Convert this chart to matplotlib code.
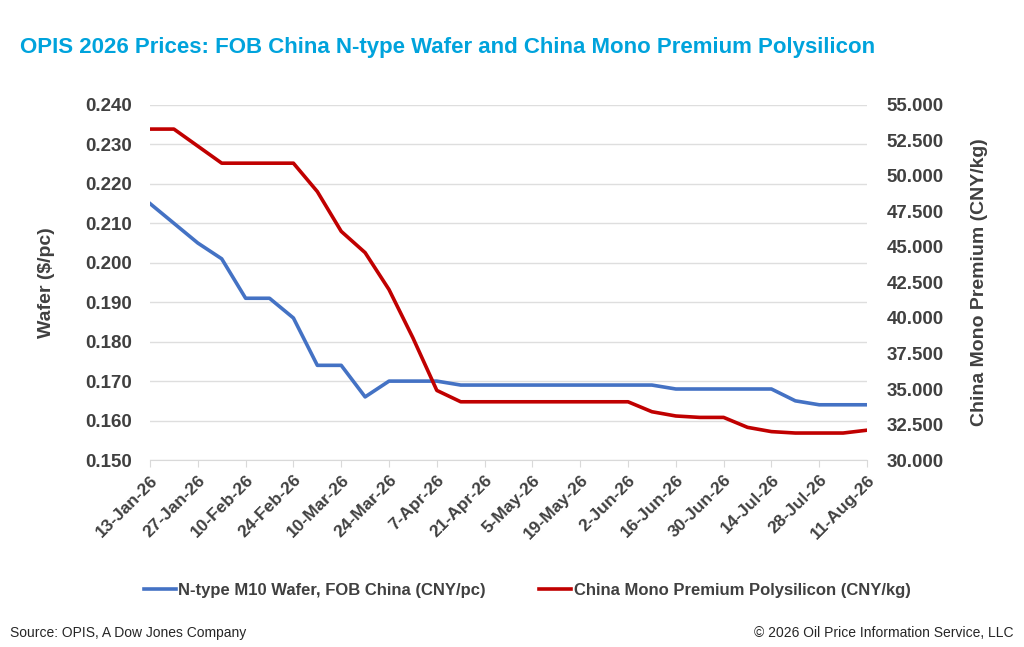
import numpy as np
import matplotlib
matplotlib.use("Agg")
import matplotlib.pyplot as plt
from matplotlib.ticker import FormatStrFormatter

# weekly assessment dates (every Tuesday, 13-Jan-26 .. 11-Aug-26)
dates = ["13-Jan-26", "20-Jan-26", "27-Jan-26", "3-Feb-26", "10-Feb-26", "17-Feb-26",
         "24-Feb-26", "3-Mar-26", "10-Mar-26", "17-Mar-26", "24-Mar-26", "31-Mar-26",
         "7-Apr-26", "14-Apr-26", "21-Apr-26", "28-Apr-26", "5-May-26", "12-May-26",
         "19-May-26", "26-May-26", "2-Jun-26", "9-Jun-26", "16-Jun-26", "23-Jun-26",
         "30-Jun-26", "7-Jul-26", "14-Jul-26", "21-Jul-26", "28-Jul-26", "4-Aug-26",
         "11-Aug-26"]

wafer = [0.215, 0.210, 0.205, 0.201, 0.191, 0.191, 0.186, 0.174, 0.174, 0.166,
         0.170, 0.170, 0.170, 0.169, 0.169, 0.169, 0.169, 0.169, 0.169, 0.169,
         0.169, 0.169, 0.168, 0.168, 0.168, 0.168, 0.168, 0.165, 0.164, 0.164,
         0.164]

poly = [53.3, 53.3, 52.1, 50.9, 50.9, 50.9, 50.9, 48.9, 46.1, 44.6,
        42.0, 38.6, 34.9, 34.1, 34.1, 34.1, 34.1, 34.1, 34.1, 34.1,
        34.1, 33.4, 33.1, 33.0, 33.0, 32.3, 32.0, 31.9, 31.9, 31.9,
        32.1]

wafer_label = "N-type M10 Wafer, FOB China (CNY/pc)"
poly_label = "China Mono Premium Polysilicon (CNY/kg)"

plt.rcParams["font.family"] = ["Liberation Sans", "DejaVu Sans"]

txt = "#404040"
blue = "#4472c4"
red = "#c00000"

fig = plt.figure(figsize=(10.24, 6.47), dpi=100)
ax = fig.add_axes([0.1465, 0.289, 0.7002, 0.5488])
ax2 = ax.twinx()

x = np.arange(len(dates))
ax.plot(x, wafer, color=blue, lw=2.6, label=wafer_label)
ax2.plot(x, poly, color=red, lw=2.6, label=poly_label)

ax.set_xlim(0, len(dates) - 1)
ax.set_ylim(0.150, 0.240)
ax.set_yticks(np.arange(0.150, 0.2401, 0.010))
ax.yaxis.set_major_formatter(FormatStrFormatter("%.3f"))
ax2.set_ylim(30, 55)
ax2.set_yticks(np.arange(30, 55.01, 2.5))
ax2.yaxis.set_major_formatter(FormatStrFormatter("%.3f"))

ax.set_xticks(x[::2])
ax.set_xticklabels(dates[::2], rotation=45, ha="right", rotation_mode="anchor")

ax.grid(axis="y", color="#dedede", lw=1)
ax.set_axisbelow(True)
for a in (ax, ax2):
    for s in a.spines.values():
        s.set_visible(False)
ax.spines["bottom"].set_visible(True)
ax.spines["bottom"].set_color("#d9d9d9")
ax.tick_params(axis="x", length=5, color="#d9d9d9", pad=4)
ax.tick_params(axis="y", length=0, pad=13)
ax2.tick_params(axis="y", length=0, pad=14)

for lab in ax.get_xticklabels():
    lab.set_fontsize(12.5)
    lab.set_fontweight("bold")
    lab.set_color(txt)
for lab in ax.get_yticklabels() + ax2.get_yticklabels():
    lab.set_fontsize(13.5)
    lab.set_fontweight("bold")
    lab.set_color(txt)

ax.set_ylabel("Wafer ($/pc)", fontsize=14, fontweight="bold", color=txt, labelpad=22)
ax2.set_ylabel("China Mono Premium (CNY/kg)", fontsize=14, fontweight="bold",
               color=txt, labelpad=20)

fig.text(0.02, 0.918, "OPIS 2026 Prices: FOB China N-type Wafer and China Mono Premium Polysilicon",
         fontsize=16, fontweight="bold", color="#00a3dc", ha="left", va="baseline")

h1, l1 = ax.get_legend_handles_labels()
h2, l2 = ax2.get_legend_handles_labels()
fig.legend(h1 + h2, l1 + l2, loc="center", bbox_to_anchor=(0.515, 0.088), ncol=2,
           frameon=False, handlelength=1.9, handletextpad=0.15, columnspacing=3.2,
           prop={"size": 12, "weight": "bold"}, labelcolor=txt)

fig.text(0.01, 0.016, "Source: OPIS, A Dow Jones Company", fontsize=10, color="#262626")
fig.text(0.99, 0.016, "\u00a9 2026 Oil Price Information Service, LLC", fontsize=10,
         color="#262626", ha="right")

fig.savefig("out.png", dpi=100)
